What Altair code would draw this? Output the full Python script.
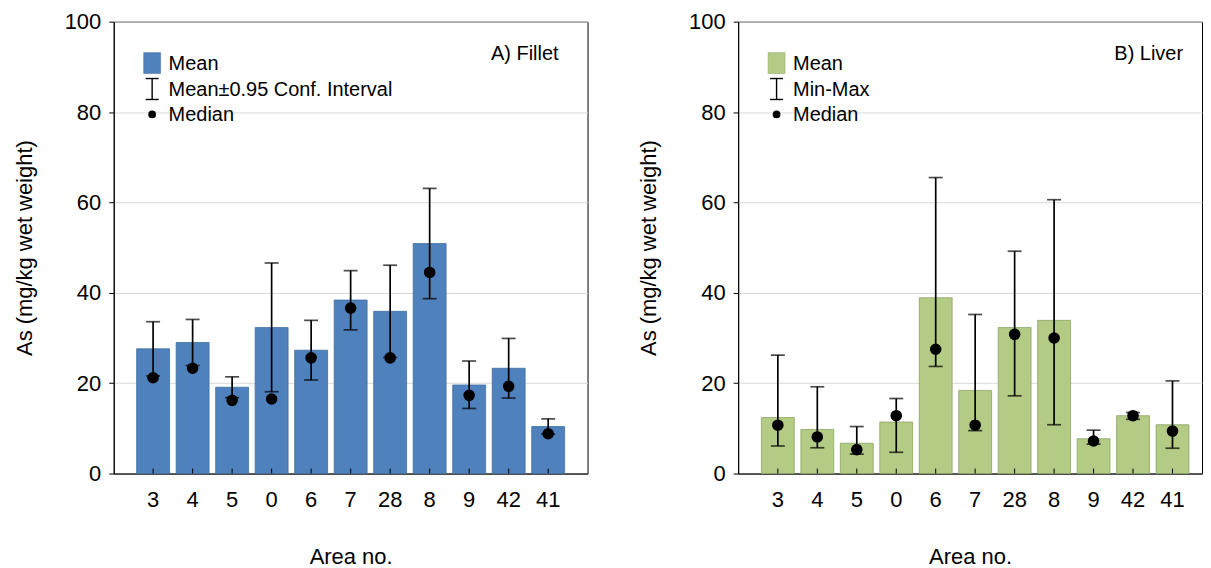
import altair as alt
import pandas as pd

areas = ["3", "4", "5", "0", "6", "7", "28", "8", "9", "42", "41"]

fillet_mean = [27.6, 29.0, 19.1, 32.3, 27.3, 38.4, 35.9, 50.9, 19.6, 23.3, 10.4]
fillet_lo = [21.6, 23.9, 16.8, 18.1, 20.7, 31.8, 25.7, 38.7, 14.4, 16.7, 8.7]
fillet_hi = [33.6, 34.1, 21.4, 46.6, 33.9, 44.9, 46.1, 63.1, 24.9, 29.9, 12.1]
fillet_median = [21.2, 23.3, 16.2, 16.5, 25.6, 36.6, 25.6, 44.5, 17.3, 19.3, 8.8]

liver_mean = [12.4, 9.75, 6.7, 11.4, 38.9, 18.4, 32.3, 33.9, 7.7, 12.8, 10.8]
liver_min = [6.1, 5.7, 4.3, 4.7, 23.7, 9.5, 17.2, 10.8, 6.5, 12.0, 5.6]
liver_max = [26.2, 19.2, 10.4, 16.6, 65.5, 35.2, 49.2, 60.6, 9.6, 13.5, 20.5]
liver_median = [10.7, 8.1, 5.3, 12.8, 27.5, 10.7, 30.8, 30.0, 7.2, 12.8, 9.4]

y_ticks = [0, 20, 40, 60, 80, 100]

FONT = "Liberation Sans"
H = 453


def panel(mean, lo, hi, med, fill, stroke, tag, err_label, W, pad_outer, align):
    df = pd.DataFrame({"area": areas, "mean": mean, "lo": lo, "hi": hi, "med": med})
    base = alt.Chart(df)
    xscale = alt.Scale(domain=areas, paddingInner=0.167, paddingOuter=pad_outer, align=align)
    yscale = alt.Scale(domain=[0, 100], nice=False)
    xax = alt.Axis(title="Area no.", labelAngle=0, ticks=False,
                   labelPadding=16, titlePadding=36, grid=False)
    yax = alt.Axis(title="As (mg/kg wet weight)", values=y_ticks,
                   tickSize=5, labelPadding=8, titlePadding=28, grid=True)
    X = alt.X("area:N", sort=areas, scale=xscale, axis=xax)

    def Y(f):
        return alt.Y(f"{f}:Q", scale=yscale, axis=yax)

    bars = base.mark_bar(color=fill, stroke=stroke, strokeWidth=0.8).encode(x=X, y=Y("mean"))
    rules = base.mark_rule(color="black", strokeWidth=1.7).encode(x=X, y=Y("lo"), y2="hi:Q")
    cap_hi = base.mark_tick(color="black", size=14, thickness=1.7).encode(x=X, y=Y("hi"))
    cap_lo = base.mark_tick(color="black", size=14, thickness=1.7).encode(x=X, y=Y("lo"))
    dots = base.mark_circle(color="black", size=135, opacity=1).encode(x=X, y=Y("med"))
    inticks = base.mark_rule(color="black", strokeWidth=1).encode(
        x=X, y=alt.value(H), y2=alt.value(H - 5))

    one = alt.Chart(pd.DataFrame({"k": [0]}))
    lg_sq = one.mark_rect(color=fill, stroke=stroke, strokeWidth=0.5).encode(
        x=alt.value(30), x2=alt.value(47), y=alt.value(31), y2=alt.value(52))
    lg_v = one.mark_rule(color="black", strokeWidth=1.4).encode(
        x=alt.value(38.5), y=alt.value(57), y2=alt.value(78))
    lg_c1 = one.mark_rule(color="black", strokeWidth=1.4).encode(
        x=alt.value(32), x2=alt.value(45), y=alt.value(57))
    lg_c2 = one.mark_rule(color="black", strokeWidth=1.4).encode(
        x=alt.value(32), x2=alt.value(45), y=alt.value(78))
    lg_dot = one.mark_circle(color="black", size=60, opacity=1).encode(
        x=alt.value(38.5), y=alt.value(93))
    txt = dict(font=FONT, fontSize=20, color="black", align="left", baseline="middle")
    t1 = one.mark_text(**txt).encode(x=alt.value(55), y=alt.value(42), text=alt.value("Mean"))
    t2 = one.mark_text(**txt).encode(x=alt.value(55), y=alt.value(69), text=alt.value(err_label))
    t3 = one.mark_text(**txt).encode(x=alt.value(55), y=alt.value(94), text=alt.value("Median"))
    t4 = one.mark_text(font=FONT, fontSize=20, color="black", align="right",
                       baseline="middle").encode(
        x=alt.value(446), y=alt.value(32), text=alt.value(tag))

    return alt.layer(bars, rules, cap_hi, cap_lo, dots, inticks,
                     lg_sq, lg_v, lg_c1, lg_c2, lg_dot, t1, t2, t3, t4).properties(
        width=W, height=H)


left = panel(fillet_mean, fillet_lo, fillet_hi, fillet_median,
             "#4f81bd", "#41709f", "A) Fillet", "Mean\u00b10.95 Conf. Interval",
             475, 0.58, 0.5)
right = panel(liver_mean, liver_min, liver_max, liver_median,
              "#b3cb84", "#8da565", "B) Liver", "Min-Max",
              465, 0.46, 0.64)

chart = alt.hconcat(left, right, spacing=48).properties(
    padding={"left": 4, "top": 1, "right": 0, "bottom": 0}
).configure_view(
    stroke="black", strokeWidth=1
).configure_axis(
    labelFont=FONT, labelFontSize=22, labelColor="black",
    titleFont=FONT, titleFontSize=22, titleFontWeight="normal", titleColor="black",
    domainColor="black", domainWidth=1, tickColor="black", tickWidth=1,
    gridColor="#d9d9d9", gridWidth=1
)

chart.save("out.html", embed_options={"renderer": "svg", "actions": False})
